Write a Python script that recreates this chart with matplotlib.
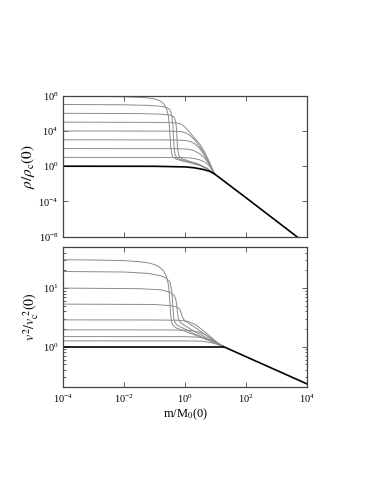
import matplotlib
matplotlib.use("Agg")
import matplotlib.pyplot as plt
import numpy as np

plt.rcParams['font.family'] = ['Liberation Serif', 'DejaVu Serif']
plt.rcParams['mathtext.fontset'] = 'stix'

# log10(m/M0(0)) and log10(rho/rho_c(0))
rho_logm = [
	[-4, -3, -2, -1.5, -1.2, -1.0, -0.85, -0.72, -0.62, -0.56, -0.52, -0.5, -0.48, -0.45, -0.4, -0.3, -0.1, 0.2, 0.5, 0.75, 0.95],
	[-4, -2, -1.2, -0.8, -0.6, -0.5, -0.45, -0.41, -0.39, -0.37, -0.34, -0.28, -0.15, 0.1, 0.4, 0.7, 0.95],
	[-4, -1.5, -0.8, -0.5, -0.38, -0.32, -0.29, -0.27, -0.25, -0.21, -0.12, 0.1, 0.4, 0.7, 0.95],
	[-4, -1, -0.4, -0.2, -0.1, 0.0, 0.15, 0.3, 0.48, 0.65, 0.8, 0.95],
	[-4, -0.5, -0.15, 0.0, 0.15, 0.3, 0.48, 0.65, 0.8, 0.95],
	[-4, -0.5, 0.0, 0.2, 0.35, 0.5, 0.65, 0.8, 0.95],
	[-4, -0.3, 0.1, 0.3, 0.5, 0.65, 0.8, 0.95],
	[-4, -0.2, 0.2, 0.45, 0.65, 0.8, 0.95],
]
rho_logy = [
	[7.93, 7.92, 7.88, 7.82, 7.74, 7.62, 7.45, 7.15, 6.6, 5.8, 4.6, 3.4, 2.3, 1.5, 1.05, 0.8, 0.6, 0.35, 0.05, -0.35, -0.85],
	[7.0, 6.97, 6.9, 6.8, 6.65, 6.4, 5.9, 4.8, 3.5, 2.3, 1.4, 0.95, 0.75, 0.5, 0.2, -0.25, -0.85],
	[6.0, 5.97, 5.9, 5.8, 5.6, 5.2, 4.3, 3.0, 1.9, 1.2, 0.85, 0.6, 0.3, -0.2, -0.85],
	[5.0, 4.97, 4.93, 4.85, 4.7, 4.4, 3.8, 3.2, 2.5, 1.5, 0.4, -0.85],
	[4.0, 3.98, 3.93, 3.8, 3.5, 3.0, 2.2, 1.3, 0.3, -0.85],
	[3.0, 2.98, 2.93, 2.75, 2.45, 1.9, 1.1, 0.25, -0.85],
	[2.0, 1.99, 1.93, 1.75, 1.35, 0.85, 0.15, -0.85],
	[1.0, 0.99, 0.93, 0.75, 0.45, 0.0, -0.85],
]
rho_black_logm = [-4, -1, 0, 0.3, 0.6, 0.8, 0.95]
rho_black_logy = [0, -0.01, -0.08, -0.18, -0.38, -0.58, -0.85]
rho_tail_logm = [0.95, 2.0, 3.0, 4.0]
rho_tail_logy = [-0.85, -3.6, -6.25, -8.9]

# log10(m/M0(0)) and log10(v^2/v_c^2(0))
v2_logm = [
	[-4, -3, -2, -1.5, -1.2, -1.0, -0.85, -0.72, -0.62, -0.55, -0.51, -0.48, -0.45, -0.4, -0.3, -0.1, 0.3, 0.7, 1.0, 1.25],
	[-4, -2, -1.2, -0.8, -0.62, -0.5, -0.44, -0.41, -0.38, -0.34, -0.25, -0.05, 0.3, 0.7, 1.0, 1.25],
	[-4, -1.5, -0.8, -0.5, -0.36, -0.3, -0.26, -0.23, -0.18, -0.05, 0.3, 0.7, 1.0, 1.25],
	[-4, -1, -0.5, -0.28, -0.18, -0.13, -0.09, -0.03, 0.1, 0.4, 0.75, 1.0, 1.25],
	[-4, -1, -0.2, 0.1, 0.35, 0.6, 0.85, 1.05, 1.25],
	[-4, -0.5, 0.1, 0.45, 0.7, 0.95, 1.1, 1.25],
	[-4, 0.0, 0.5, 0.8, 1.0, 1.15, 1.25],
	[-4, 0.2, 0.6, 0.9, 1.1, 1.25],
]
v2_logy = [
	[1.485, 1.48, 1.47, 1.45, 1.43, 1.4, 1.36, 1.3, 1.2, 1.05, 0.8, 0.55, 0.42, 0.36, 0.32, 0.28, 0.2, 0.12, 0.06, 0.0],
	[1.284, 1.275, 1.25, 1.21, 1.17, 1.1, 0.95, 0.7, 0.5, 0.41, 0.36, 0.31, 0.22, 0.13, 0.06, 0.0],
	[1.0, 0.99, 0.97, 0.93, 0.87, 0.78, 0.6, 0.48, 0.42, 0.37, 0.26, 0.15, 0.07, 0.0],
	[0.726, 0.72, 0.7, 0.68, 0.64, 0.57, 0.5, 0.45, 0.4, 0.3, 0.17, 0.08, 0.0],
	[0.457, 0.455, 0.45, 0.43, 0.37, 0.27, 0.16, 0.07, 0.0],
	[0.286, 0.285, 0.28, 0.25, 0.19, 0.1, 0.05, 0.0],
	[0.171, 0.17, 0.16, 0.11, 0.07, 0.03, 0.0],
	[0.098, 0.097, 0.09, 0.06, 0.03, 0.0],
]
v2_black_logm = [-4, 1.25]
v2_black_logy = [0, 0]
v2_tail_logm = [1.25, 4.0]
v2_tail_logy = [0.0, -0.64]

grey = "#8a8a8a"

fig = plt.figure(figsize=(3.82, 4.94), dpi=100)
ax1 = fig.add_axes([0.1657, 0.5208, 0.6387, 0.2855])
ax2 = fig.add_axes([0.1657, 0.2156, 0.6387, 0.2850])

def pw(a):
	return 10.0 ** np.asarray(a)

for lm, ly in zip(rho_logm, rho_logy):
	ax1.plot(pw(lm), pw(ly), color=grey, lw=0.7)
ax1.plot(pw(rho_black_logm), pw(rho_black_logy), color="black", lw=1.2)
ax1.plot(pw(rho_tail_logm), pw(rho_tail_logy), color="black", lw=1.2)

for lm, ly in zip(v2_logm, v2_logy):
	ax2.plot(pw(lm), pw(ly), color=grey, lw=0.7)
ax2.plot(pw(v2_black_logm), pw(v2_black_logy), color="black", lw=1.2)
ax2.plot(pw(v2_tail_logm), pw(v2_tail_logy), color="black", lw=1.2)

for ax in (ax1, ax2):
	ax.set_xscale("log")
	ax.set_yscale("log")
	ax.set_xlim(1e-4, 1e4)
	ax.set_xticks([1e-4, 1e-2, 1, 1e2, 1e4])
	ax.xaxis.set_minor_locator(matplotlib.ticker.NullLocator())
	ax.tick_params(which="both", direction="in", top=True, right=True,
				   labelsize=7.5, color="#444444", width=0.6)
	ax.tick_params(which="major", length=3.5)
	ax.tick_params(which="minor", length=1.8)
	for s in ax.spines.values():
		s.set_color("#444444")
		s.set_linewidth(0.9)

ax1.set_ylim(1e-8, 1e8)
ax1.set_yticks([1e-8, 1e-4, 1, 1e4, 1e8])
ax1.yaxis.set_minor_locator(matplotlib.ticker.NullLocator())
ax1.tick_params(labelbottom=False)
ax1.set_ylabel(r"$\rho/\rho_{\rm c}(0)$", fontsize=11, labelpad=1)

ax2.set_ylim(0.2, 51)
ax2.set_yticks([1, 10])
ax2.yaxis.set_minor_locator(matplotlib.ticker.LogLocator(base=10, subs=np.arange(2, 10)))
ax2.yaxis.set_minor_formatter(matplotlib.ticker.NullFormatter())
ax2.set_ylabel(r"$v^2/v_{\rm c}^{\ 2}(0)$", fontsize=10, labelpad=1)
ax2.set_xlabel(r"m/M$_0$(0)", fontsize=9, labelpad=1)

fig.savefig("out.png", dpi=100)
